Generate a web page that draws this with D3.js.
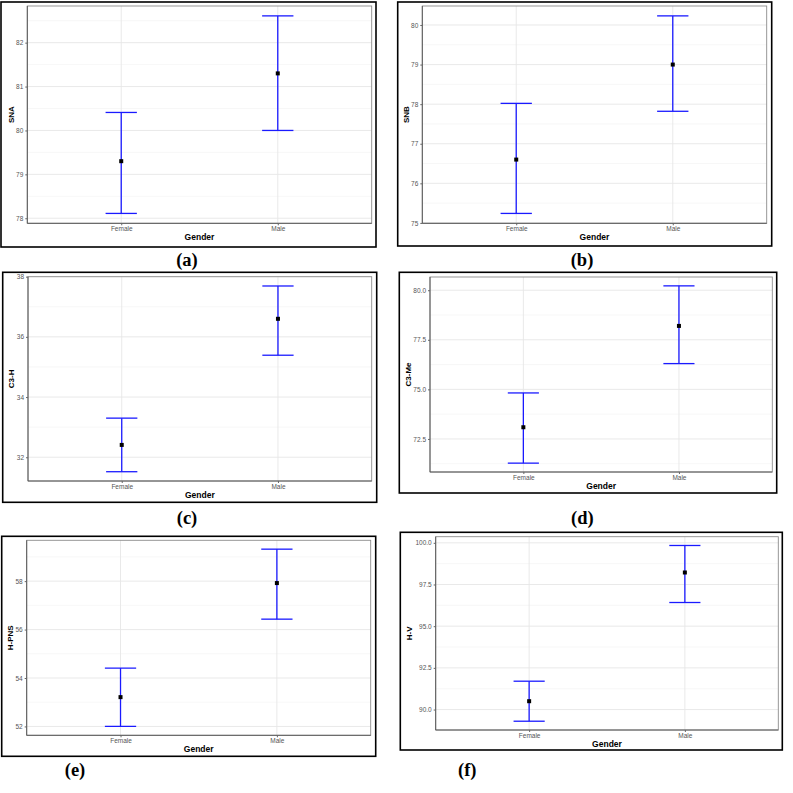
<!DOCTYPE html>
<html><head><meta charset="utf-8">
<script src="https://cdn.jsdelivr.net/npm/d3@7"></script>
<style>body{margin:0;background:#fff}svg{display:block}</style>
</head><body>
<svg id="c" width="793" height="793"></svg>
<script>
// ---- data ----
const categories = ["Female", "Male"];
const yTitles = ["SNA", "SNB", "C3-H", "C3-Me", "H-PNS", "H-V"];
const panelLabels = ["(a)", "(b)", "(c)", "(d)", "(e)", "(f)"];
const meanValues = [[79.30, 81.30], [76.60, 79.00], [32.41, 36.60], [73.09, 78.20], [53.21, 57.92], [90.50, 98.22]];
const lowerValues = [[78.11, 80.00], [75.24, 77.82], [31.52, 35.39], [71.28, 76.30], [52.00, 56.43], [89.30, 96.42]];
const upperValues = [[80.41, 82.61], [78.02, 80.23], [33.30, 37.69], [74.82, 80.22], [54.41, 59.32], [91.70, 99.84]];
const yTicks = [[78, 79, 80, 81, 82], [75, 76, 77, 78, 79, 80], [32, 34, 36, 38], [72.5, 75, 77.5, 80], [52, 54, 56, 58], [90, 92.5, 95, 97.5, 100]];
const yMinorTicks = [[78.5, 79.5, 80.5, 81.5, 82.5], [75.5, 76.5, 77.5, 78.5, 79.5, 80.5], [33, 35, 37], [71.25, 73.75, 76.25, 78.75], [53, 55, 57, 59], [88.75, 91.25, 93.75, 96.25, 98.75]];
const tickFormats = ["d", "d", "d", ".1f", "d", ".1f"];

// ---- layout ----
const layout = [
  {outer: [1, 2, 376, 247], plot: [27.3, 6, 371.7, 223.3], lab: [187, 260], ytx: 11},
  {outer: [397.7, 2, 771.7, 246], plot: [422.3, 6, 766.7, 223.3], lab: [582, 260], ytx: 406},
  {outer: [2.7, 272.3, 376.7, 502.3], plot: [28, 276.7, 371.7, 481], lab: [187, 518], ytx: 11.7},
  {outer: [399.3, 272.3, 776.7, 493], plot: [430, 277, 772.3, 472], lab: [582.3, 518], ytx: 408.3},
  {outer: [1.7, 536.3, 375.7, 756.3], plot: [26.7, 540.3, 370.7, 735.3], lab: [75, 770], ytx: 10.7},
  {outer: [400.3, 532.3, 782.3, 750], plot: [435.7, 536.7, 778.3, 730], lab: [467.3, 770], ytx: 409.7}
];

const svg = d3.select("#c");
const blue = "#1a1aff";

layout.forEach((L, i) => {
  const [l, t, r, b] = L.plot;
  const g = svg.append("g");
  g.append("rect").attr("x", L.outer[0]).attr("y", L.outer[1])
    .attr("width", L.outer[2] - L.outer[0]).attr("height", L.outer[3] - L.outer[1])
    .attr("fill", "#fff").attr("stroke", "#000").attr("stroke-width", 1.6);

  const lo = d3.min(lowerValues[i]), hi = d3.max(upperValues[i]);
  const pad = (hi - lo) * 0.05;
  const y = d3.scaleLinear().domain([lo - pad, hi + pad]).range([b, t]);
  const x = d3.scalePoint().domain(categories).range([l, r]).padding(0.6);
  const step = x.step();

  g.selectAll(".mn").data(yMinorTicks[i].filter(v => y(v) >= t && y(v) <= b)).enter().append("line")
    .attr("x1", l).attr("x2", r).attr("y1", d => y(d)).attr("y2", d => y(d))
    .attr("stroke", "#f2f2f2").attr("stroke-width", 0.6);
  g.selectAll(".mj").data(yTicks[i]).enter().append("line")
    .attr("x1", l).attr("x2", r).attr("y1", d => y(d)).attr("y2", d => y(d))
    .attr("stroke", "#e6e6e6").attr("stroke-width", 0.9);
  g.selectAll(".vx").data(categories).enter().append("line")
    .attr("x1", d => x(d)).attr("x2", d => x(d)).attr("y1", t).attr("y2", b)
    .attr("stroke", "#e6e6e6").attr("stroke-width", 0.9);

  g.append("rect").attr("x", l).attr("y", t).attr("width", r - l).attr("height", b - t)
    .attr("fill", "none").attr("stroke", "#8c8c8c").attr("stroke-width", 0.9);
  g.append("line").attr("x1", l).attr("x2", l).attr("y1", t).attr("y2", b).attr("stroke", "#555").attr("stroke-width", 0.9);
  g.append("line").attr("x1", l).attr("x2", r).attr("y1", b).attr("y2", b).attr("stroke", "#555").attr("stroke-width", 0.9);

  const ya = g.append("g").attr("transform", `translate(${l},0)`)
    .call(d3.axisLeft(y).tickValues(yTicks[i]).tickFormat(d3.format(tickFormats[i])).tickSize(2).tickPadding(2));
  ya.select(".domain").remove();
  ya.selectAll("line").attr("stroke", "#666");
  ya.selectAll("text").attr("fill", "#555").style("font-family", "Liberation Sans, Arial, sans-serif").style("font-size", "6.5px");

  const xa = g.append("g").attr("transform", `translate(0,${b})`)
    .call(d3.axisBottom(x).tickSize(2).tickPadding(1.5));
  xa.select(".domain").remove();
  xa.selectAll("line").attr("stroke", "#666");
  xa.selectAll("text").attr("fill", "#555").style("font-family", "Liberation Sans, Arial, sans-serif").style("font-size", "6.5px");

  g.append("text").attr("x", (l + r) / 2).attr("y", b + 14).attr("text-anchor", "middle")
    .attr("dominant-baseline", "central")
    .style("font-family", "Liberation Sans, Arial, sans-serif").style("font-size", "8.5px").style("font-weight", "bold")
    .text("Gender");
  g.append("text").attr("transform", `translate(${L.ytx},${(t + b) / 2}) rotate(-90)`)
    .attr("text-anchor", "middle").attr("dominant-baseline", "central")
    .style("font-family", "Liberation Sans, Arial, sans-serif").style("font-size", "8px").style("font-weight", "bold")
    .text(yTitles[i]);

  const capHalf = step * 0.1;
  const rows = categories.map((c, j) => ({c, m: meanValues[i][j], lo: lowerValues[i][j], hi: upperValues[i][j]}));
  const eb = g.selectAll(".eb").data(rows).enter().append("g");
  eb.append("line").attr("x1", d => x(d.c)).attr("x2", d => x(d.c)).attr("y1", d => y(d.lo)).attr("y2", d => y(d.hi))
    .attr("stroke", blue).attr("stroke-width", 1.3);
  eb.append("line").attr("x1", d => x(d.c) - capHalf).attr("x2", d => x(d.c) + capHalf).attr("y1", d => y(d.lo)).attr("y2", d => y(d.lo))
    .attr("stroke", blue).attr("stroke-width", 1.3);
  eb.append("line").attr("x1", d => x(d.c) - capHalf).attr("x2", d => x(d.c) + capHalf).attr("y1", d => y(d.hi)).attr("y2", d => y(d.hi))
    .attr("stroke", blue).attr("stroke-width", 1.3);
  eb.append("rect").attr("x", d => x(d.c) - 2).attr("y", d => y(d.m) - 2).attr("width", 4).attr("height", 4).attr("fill", "#000");

  svg.append("text").attr("x", L.lab[0]).attr("y", L.lab[1]).attr("text-anchor", "middle").attr("dominant-baseline", "central")
    .style("font-family", "Liberation Serif, Times New Roman, serif").style("font-size", "18.5px").style("font-weight", "bold")
    .text(panelLabels[i]);
});
</script>
</body></html>
